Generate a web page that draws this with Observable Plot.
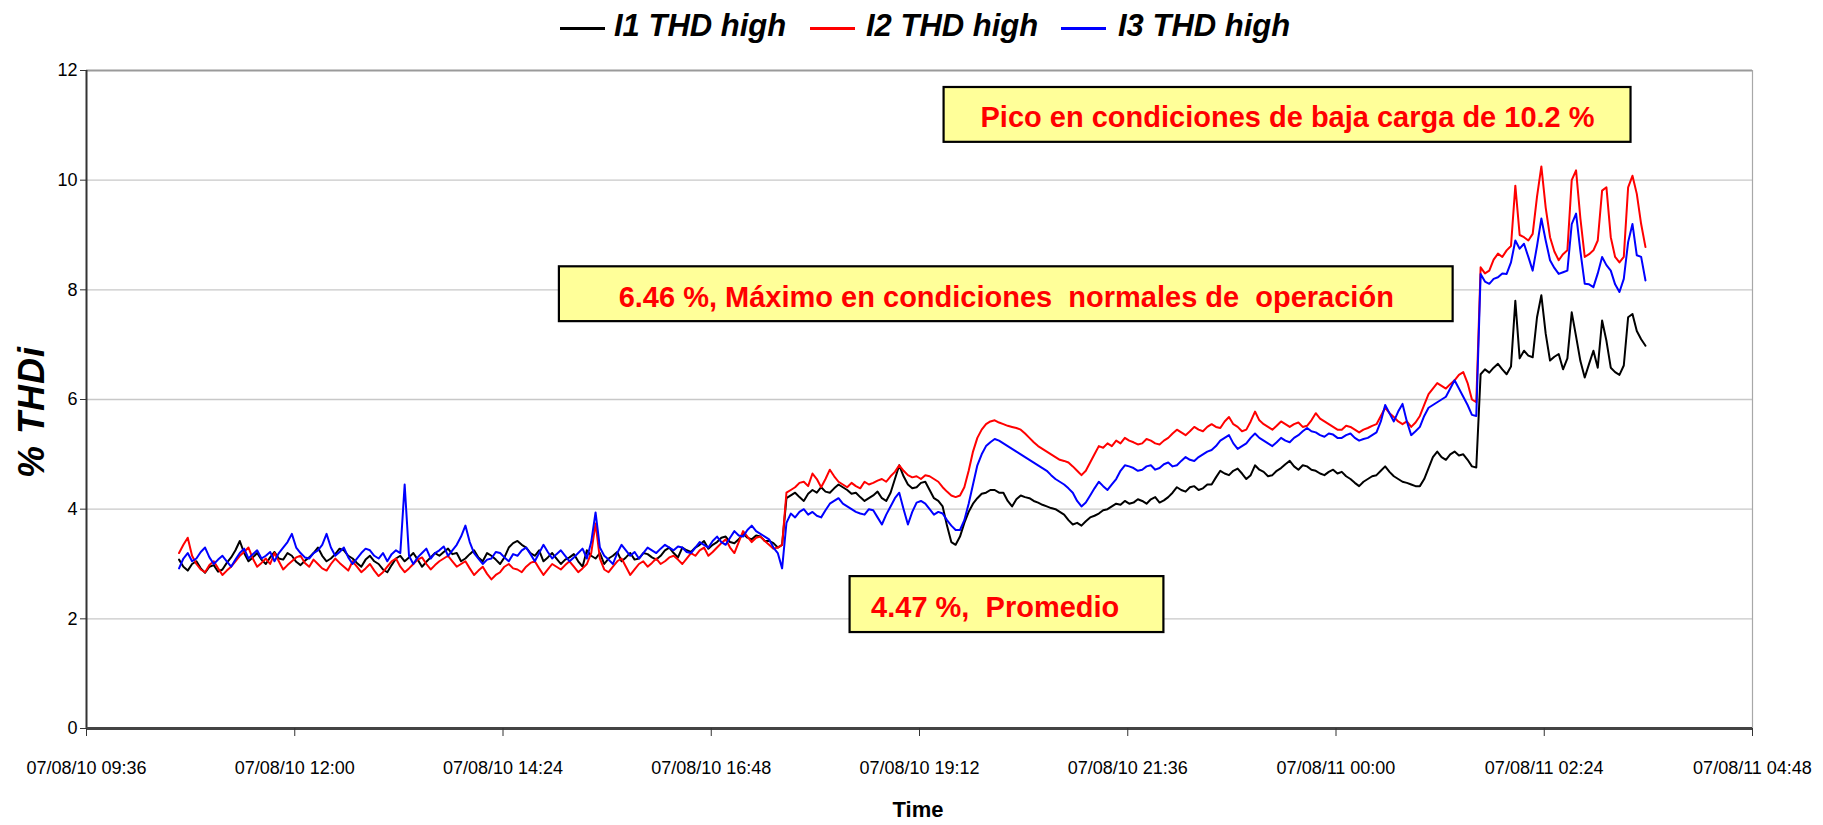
<!DOCTYPE html>
<html>
<head>
<meta charset="utf-8">
<script src="https://cdn.jsdelivr.net/npm/d3@7"></script>
<script src="https://cdn.jsdelivr.net/npm/@observablehq/plot@0.6"></script>
<style>
  html, body { margin: 0; padding: 0; background: #fff; }
  #wrap { position: relative; width: 1823px; height: 825px; overflow: hidden; font-family: "Liberation Sans", Arial, sans-serif; }
  #legend { position: absolute; left: 0; top: 0; width: 1823px; height: 52px; }
  .lg-line { position: absolute; top: 27px; width: 45px; height: 3px; }
  .lg-text { position: absolute; top: 10px; font: italic bold 31px/31px "Liberation Sans", Arial, sans-serif; color: #000; white-space: nowrap; }
  #chart { position: absolute; left: 0; top: 52px; }
  #ylabel { position: absolute; left: 32px; top: 412px; transform: translate(-50%, -50%) rotate(-90deg); font: italic bold 36px "Liberation Sans", Arial, sans-serif; letter-spacing: 1px; white-space: nowrap; }
  #xlabel { position: absolute; left: 918px; top: 810px; transform: translate(-50%, -50%); font: bold 22px "Liberation Sans", Arial, sans-serif; }
  svg text { white-space: pre; }
</style>
</head>
<body>
<div id="wrap">
  <div id="legend"></div>
  <div id="chart"></div>
  <div id="ylabel">% THDi</div>
  <div id="xlabel">Time</div>
</div>
<script>
// ---- data ----
const seriesNames = ["I1 THD high", "I2 THD high", "I3 THD high"];
const seriesColors = ["#000000", "#ff0000", "#0000ff"];
const startTime = "2007-08-10T10:40";   // first sample
const stepMinutes = 3;                   // sampling interval

const i1 = [
  3.08, 2.95, 2.88, 3.0, 3.05, 2.92, 2.84, 2.95, 2.98, 2.86,
  2.9, 3.02, 3.12, 3.25, 3.42, 3.2, 3.05, 3.12, 3.2, 3.08,
  3.0, 3.12, 3.22, 3.1, 3.08, 3.2, 3.15, 3.04, 2.98, 3.06,
  3.12, 3.2, 3.3, 3.15, 3.05, 3.1, 3.18, 3.28, 3.25, 3.15,
  3.1, 3.02, 2.95, 3.08, 3.15, 3.05, 3.0, 2.9, 2.85, 2.98,
  3.1, 3.15, 3.05, 3.12, 3.2, 3.08, 2.95, 3.04, 3.12, 3.2,
  3.15, 3.22, 3.28, 3.18, 3.2, 3.05, 3.1, 3.18, 3.25, 3.12,
  3.05, 3.2, 3.15, 3.08, 3.0, 3.12, 3.3, 3.38, 3.42, 3.35,
  3.3, 3.2, 3.15, 3.25, 3.05, 3.12, 3.2, 3.1, 3.0, 3.08,
  3.12, 3.18, 3.05, 2.95, 3.25, 3.15, 3.1, 3.2, 3.0, 3.1,
  3.15, 3.22, 3.05, 3.12, 3.2, 3.08, 3.1, 3.2, 3.18, 3.12,
  3.08, 3.15, 3.25, 3.3, 3.2, 3.12, 3.3, 3.25, 3.22, 3.3,
  3.35, 3.42, 3.28, 3.35, 3.4, 3.48, 3.5, 3.4, 3.38, 3.45,
  3.55, 3.48, 3.45, 3.52, 3.5, 3.42, 3.42, 3.38, 3.3, 3.35,
  4.2, 4.25, 4.3, 4.22, 4.15, 4.28, 4.35, 4.3, 4.4, 4.32,
  4.3, 4.38, 4.45, 4.4, 4.35, 4.28, 4.3, 4.22, 4.15, 4.2,
  4.25, 4.32, 4.2, 4.15, 4.3, 4.55, 4.8, 4.6, 4.45, 4.38,
  4.4, 4.48, 4.5, 4.35, 4.2, 4.15, 4.05, 3.7, 3.4, 3.35,
  3.5, 3.75, 3.95, 4.1, 4.2, 4.28, 4.3, 4.35, 4.35, 4.3,
  4.3, 4.15, 4.05, 4.18, 4.25, 4.22, 4.2, 4.15, 4.12, 4.08,
  4.05, 4.02, 4.0, 3.95, 3.9, 3.8, 3.72, 3.75, 3.7, 3.78,
  3.85, 3.88, 3.92, 3.98, 4.0, 4.05, 4.1, 4.08, 4.15, 4.1,
  4.12, 4.18, 4.15, 4.1, 4.18, 4.22, 4.12, 4.16, 4.22, 4.3,
  4.4, 4.35, 4.32, 4.4, 4.42, 4.35, 4.38, 4.45, 4.45, 4.58,
  4.7, 4.65, 4.62, 4.7, 4.74, 4.65, 4.55, 4.62, 4.8, 4.72,
  4.68, 4.6, 4.62, 4.7, 4.75, 4.82, 4.88, 4.78, 4.72, 4.8,
  4.78, 4.72, 4.7, 4.65, 4.62, 4.68, 4.72, 4.65, 4.68, 4.6,
  4.55, 4.48, 4.42, 4.5, 4.55, 4.6, 4.62, 4.7, 4.78, 4.68,
  4.6, 4.55, 4.5, 4.48, 4.45, 4.42, 4.42, 4.55, 4.75, 4.95,
  5.05, 4.95, 4.9, 5.0, 5.05, 4.98, 5.0, 4.9, 4.78, 4.76,
  6.46, 6.55, 6.49, 6.58, 6.65, 6.55, 6.46, 6.6, 7.8, 6.75,
  6.89, 6.8, 6.77, 7.5, 7.9, 7.2, 6.71, 6.78, 6.83, 6.55,
  6.75, 7.59, 7.15, 6.7, 6.4, 6.65, 6.89, 6.58, 7.44, 7.07,
  6.58, 6.5, 6.45, 6.62, 7.5, 7.56, 7.25, 7.1, 6.98
];
const i2 = [
  3.2, 3.35, 3.48, 3.15, 3.0, 2.9, 2.85, 2.98, 3.05, 2.92,
  2.8, 2.88, 2.95, 3.05, 3.15, 3.22, 3.3, 3.1, 2.95, 3.02,
  3.1, 3.0, 3.2, 3.05, 2.9, 2.98, 3.05, 3.12, 3.15, 3.02,
  2.95, 3.08, 3.0, 2.92, 2.88, 3.0, 3.1, 3.02, 2.95, 2.88,
  3.05, 2.95, 2.85, 2.92, 3.0, 2.88, 2.78, 2.85, 2.95, 3.05,
  3.1, 2.95, 2.85, 2.92, 3.0, 3.08, 3.12, 3.0, 2.9, 2.98,
  3.05, 3.1, 3.15, 3.05, 2.95, 3.0, 3.05, 2.92, 2.8, 2.88,
  2.95, 2.82, 2.72, 2.8, 2.85, 2.95, 3.0, 2.92, 2.9, 2.85,
  2.95, 3.02, 3.05, 2.92, 2.8, 2.9, 3.0, 2.95, 2.9, 2.98,
  3.05, 2.95, 2.85, 2.92, 3.0, 3.2, 3.74, 3.1, 2.9, 2.85,
  2.95, 3.05, 3.1, 2.95, 2.8, 2.9, 3.0, 3.05, 2.95, 3.02,
  3.1, 3.0, 3.05, 3.12, 3.15, 3.08, 3.0, 3.1, 3.2, 3.15,
  3.25, 3.3, 3.15, 3.22, 3.3, 3.38, 3.45, 3.3, 3.2, 3.4,
  3.6, 3.5, 3.4, 3.48, 3.5, 3.42, 3.35, 3.28, 3.3, 3.35,
  4.3, 4.35, 4.4, 4.48, 4.5, 4.42, 4.65, 4.55, 4.4, 4.55,
  4.72, 4.6, 4.5, 4.45, 4.4, 4.48, 4.42, 4.38, 4.5, 4.45,
  4.48, 4.52, 4.55, 4.5, 4.6, 4.68, 4.8, 4.7, 4.62, 4.58,
  4.6, 4.55, 4.62, 4.6, 4.55, 4.5, 4.4, 4.32, 4.25, 4.22,
  4.25, 4.4, 4.7, 5.05, 5.3, 5.45, 5.55, 5.6, 5.62, 5.58,
  5.55, 5.52, 5.5, 5.48, 5.45, 5.38, 5.3, 5.22, 5.15, 5.1,
  5.05, 5.0, 4.95, 4.9, 4.88, 4.85, 4.78, 4.7, 4.62, 4.7,
  4.85, 5.0, 5.15, 5.12, 5.2, 5.15, 5.25, 5.2, 5.3, 5.25,
  5.22, 5.18, 5.2, 5.28, 5.25, 5.2, 5.18, 5.25, 5.3, 5.38,
  5.45, 5.4, 5.35, 5.42, 5.5, 5.45, 5.42, 5.5, 5.55, 5.5,
  5.48, 5.6, 5.68, 5.55, 5.5, 5.42, 5.45, 5.6, 5.78, 5.62,
  5.55, 5.5, 5.45, 5.52, 5.6, 5.55, 5.5, 5.55, 5.58, 5.5,
  5.52, 5.62, 5.75, 5.65, 5.6, 5.55, 5.5, 5.45, 5.45, 5.52,
  5.5, 5.45, 5.4, 5.45, 5.48, 5.52, 5.55, 5.7, 5.85, 5.75,
  5.68, 5.6, 5.55, 5.6, 5.5, 5.58, 5.7, 5.9, 6.1, 6.2,
  6.3, 6.25, 6.2, 6.28, 6.35, 6.45, 6.5, 6.3, 6.0, 5.95,
  8.41, 8.3, 8.35, 8.55, 8.66, 8.6, 8.72, 8.8, 9.9, 9.0,
  8.96, 8.9, 9.02, 9.7, 10.25, 9.5, 8.96, 8.7, 8.54, 8.65,
  8.72, 10.0, 10.18, 9.3, 8.6, 8.65, 8.72, 8.9, 9.81, 9.87,
  8.96, 8.6, 8.5, 8.6, 9.87, 10.08, 9.75, 9.2, 8.78
];
const i3 = [
  2.92, 3.1, 3.2, 3.05, 3.1, 3.22, 3.3, 3.12, 3.0, 3.08,
  3.15, 3.05, 2.95, 3.08, 3.2, 3.28, 3.1, 3.18, 3.25, 3.1,
  3.15, 3.22, 3.05, 3.2, 3.3, 3.4, 3.55, 3.3, 3.2, 3.12,
  3.1, 3.2, 3.25, 3.35, 3.55, 3.3, 3.15, 3.22, 3.3, 3.12,
  3.0, 3.1, 3.2, 3.28, 3.25, 3.15, 3.1, 3.2, 3.05, 3.18,
  3.25, 3.2, 4.45, 3.15, 3.0, 3.12, 3.2, 3.28, 3.1, 3.2,
  3.25, 3.32, 3.15, 3.25, 3.35, 3.5, 3.7, 3.4, 3.2, 3.1,
  3.0, 3.08, 3.1, 3.22, 3.2, 3.12, 3.05, 3.18, 3.15, 3.25,
  3.3, 3.18, 3.05, 3.2, 3.35, 3.22, 3.1, 3.18, 3.25, 3.15,
  3.05, 3.12, 3.2, 3.28, 3.1, 3.4, 3.94, 3.3, 3.15, 3.08,
  3.0, 3.2, 3.35, 3.25, 3.15, 3.22, 3.1, 3.2, 3.3, 3.25,
  3.2, 3.28, 3.35, 3.3, 3.25, 3.32, 3.3, 3.22, 3.2, 3.3,
  3.4, 3.35, 3.3, 3.42, 3.5, 3.4, 3.35, 3.48, 3.6, 3.52,
  3.5, 3.62, 3.7, 3.6, 3.55, 3.5, 3.45, 3.3, 3.2, 2.92,
  3.75, 3.92, 3.85, 3.95, 4.0, 3.9, 3.95, 3.88, 3.85, 3.98,
  4.1, 4.15, 4.2, 4.1, 4.05, 4.0, 3.95, 3.92, 3.9, 4.0,
  3.98, 3.85, 3.72, 3.9, 4.05, 4.2, 4.3, 4.0, 3.72, 3.95,
  4.12, 4.15, 4.1, 4.0, 3.9, 3.95, 3.92, 3.8, 3.7, 3.62,
  3.62, 3.8, 4.1, 4.45, 4.8, 5.0, 5.15, 5.22, 5.28, 5.25,
  5.2, 5.15, 5.1, 5.05, 5.0, 4.95, 4.9, 4.85, 4.8, 4.75,
  4.7, 4.62, 4.55, 4.5, 4.45, 4.38, 4.3, 4.15, 4.05, 4.12,
  4.25, 4.38, 4.5, 4.42, 4.35, 4.45, 4.55, 4.7, 4.8, 4.78,
  4.75, 4.7, 4.72, 4.78, 4.8, 4.72, 4.75, 4.82, 4.85, 4.78,
  4.8, 4.88, 4.95, 4.9, 4.88, 4.95, 5.0, 5.05, 5.08, 5.15,
  5.25, 5.3, 5.35, 5.2, 5.1, 5.15, 5.2, 5.3, 5.38, 5.3,
  5.25, 5.2, 5.15, 5.22, 5.3, 5.25, 5.22, 5.3, 5.35, 5.42,
  5.48, 5.42, 5.4, 5.35, 5.32, 5.38, 5.36, 5.3, 5.3, 5.35,
  5.38, 5.3, 5.25, 5.28, 5.3, 5.35, 5.4, 5.6, 5.9, 5.75,
  5.6, 5.78, 5.92, 5.6, 5.35, 5.42, 5.5, 5.7, 5.85, 5.9,
  5.95, 6.0, 6.05, 6.2, 6.35, 6.2, 6.05, 5.9, 5.72, 5.7,
  8.29, 8.15, 8.11, 8.2, 8.23, 8.3, 8.29, 8.5, 8.9, 8.75,
  8.84, 8.6, 8.35, 8.8, 9.3, 8.9, 8.54, 8.4, 8.29, 8.32,
  8.35, 9.2, 9.39, 8.7, 8.11, 8.1, 8.05, 8.3, 8.6, 8.45,
  8.35, 8.1, 7.96, 8.2, 8.87, 9.2, 8.63, 8.6, 8.17
];

const xTickTimes = [
  "2007-08-10T09:36", "2007-08-10T12:00", "2007-08-10T14:24", "2007-08-10T16:48",
  "2007-08-10T19:12", "2007-08-10T21:36", "2007-08-11T00:00", "2007-08-11T02:24",
  "2007-08-11T04:48"
];
const yTicks = [0, 2, 4, 6, 8, 10, 12];

const notes = [
  {text: "Pico en condiciones de baja carga de 10.2 %", x1: "2007-08-10T19:29", x2: "2007-08-11T03:24", y1: 10.69, y2: 11.69, anchor: "middle"},
  {text: "6.46 %, Máximo en condiciones  normales de  operación", x1: "2007-08-10T15:03", x2: "2007-08-11T01:21", y1: 7.42, y2: 8.42, anchor: "middle"},
  {text: "4.47 %,  Promedio", x1: "2007-08-10T18:24", x2: "2007-08-10T22:01", y1: 1.75, y2: 2.77, anchor: "start"}
];

// ---- build ----
const parse = d3.utcParse("%Y-%m-%dT%H:%M");
const t0 = parse(startTime);
const rows = [];
[i1, i2, i3].forEach((vals, s) => {
  vals.forEach((v, i) => rows.push({name: seriesNames[s], time: new Date(+t0 + i * stepMinutes * 60000), value: v}));
});
const xTicks = xTickTimes.map(parse);
const xDomain = [xTicks[0], xTicks[xTicks.length - 1]];
const noteRows = notes.map(d => ({...d, x1: parse(d.x1), x2: parse(d.x2)}));
const fmt = d3.utcFormat("%y/%m/%d %H:%M");

const chart = Plot.plot({
  width: 1823,
  height: 773,
  marginTop: 18,
  marginRight: 71,
  marginBottom: 97,
  marginLeft: 86,
  style: {fontFamily: "'Liberation Sans', Arial, sans-serif", fontSize: "18px", color: "#000", background: "#fff", overflow: "visible"},
  x: {type: "utc", domain: xDomain},
  y: {domain: [0, 12]},
  color: {domain: seriesNames, range: seriesColors},
  marks: [
    Plot.gridY(yTicks.filter(d => d > 0 && d < 12), {stroke: "#c8c8c8", strokeOpacity: 1, strokeWidth: 1.3}),
    Plot.ruleY([12], {stroke: "#9a9a9a", strokeWidth: 2.2}),
    Plot.ruleX([xDomain[1]], {stroke: "#a8a8a8", strokeWidth: 1.2}),
    Plot.line(rows, {x: "time", y: "value", z: "name", stroke: "name", strokeWidth: 2}),
    Plot.rect(noteRows, {x1: "x1", x2: "x2", y1: "y1", y2: "y2", fill: "#ffff99", stroke: "#000", strokeWidth: 2.2}),
    Plot.text(noteRows.filter(d => d.anchor === "middle"), {
      x: d => new Date((+d.x1 + +d.x2) / 2), y: d => (d.y1 + d.y2) / 2, text: "text",
      fill: "#ff0000", fontSize: 29, fontWeight: "bold", dy: 3, textAnchor: "middle"
    }),
    Plot.text(noteRows.filter(d => d.anchor === "start"), {
      x: "x1", y: d => (d.y1 + d.y2) / 2, text: "text",
      fill: "#ff0000", fontSize: 29, fontWeight: "bold", dy: 3, dx: 21, textAnchor: "start"
    }),
    Plot.ruleX([xDomain[0]], {stroke: "#333", strokeWidth: 2}),
    Plot.ruleY([0], {stroke: "#444", strokeWidth: 3}),
    Plot.axisX({ticks: xTicks, tickFormat: fmt, tickSize: 8, tickPadding: 25, label: null, stroke: "#333"}),
    Plot.axisY({ticks: yTicks, tickSize: 6, tickPadding: 3, label: null, stroke: "#333"})
  ]
});
document.getElementById("chart").appendChild(chart);

// ---- legend ----
const legend = document.getElementById("legend");
const lgPos = [[560, 614], [810, 866], [1061, 1118]];
seriesNames.forEach((name, s) => {
  const ln = document.createElement("div");
  ln.className = "lg-line";
  ln.style.left = lgPos[s][0] + "px";
  ln.style.background = seriesColors[s];
  legend.appendChild(ln);
  const tx = document.createElement("div");
  tx.className = "lg-text";
  tx.style.left = lgPos[s][1] + "px";
  tx.textContent = name;
  legend.appendChild(tx);
});
</script>
</body>
</html>
